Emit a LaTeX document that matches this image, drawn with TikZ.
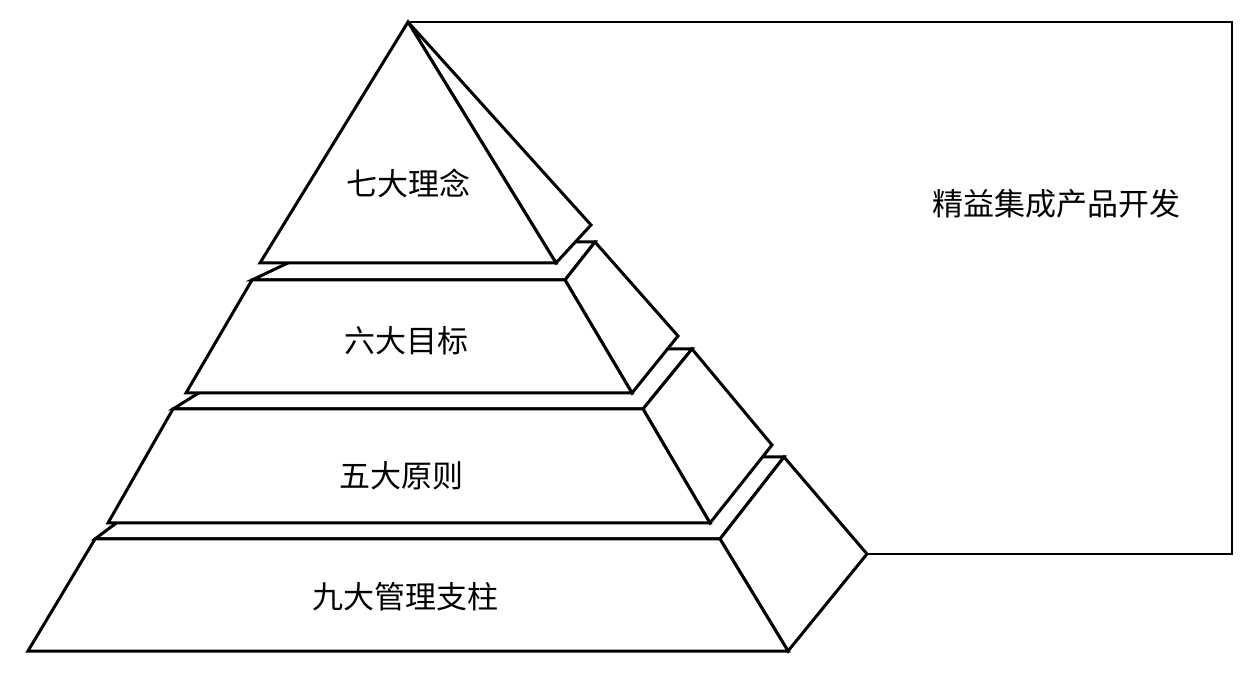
\documentclass[tikz,border=0pt]{standalone}
\usepackage{fontspec}
\newfontfamily\cjk{Noto Sans CJK SC}
\usepackage{tikz}

\tikzset{
  tierface/.style={fill=white, draw=black, line width=1.5pt},
  tiertext/.style={font=\cjk\fontsize{15.5}{18}\selectfont},
  frameline/.style={draw=black, line width=1pt}
}

\begin{document}
\begin{tikzpicture}[x=0.5pt, y=-0.5pt]
\useasboundingbox (0,0) rectangle (1259,673);

% Define points for bottom tier
\coordinate (a1) at (95, 539);
\coordinate (a2) at (720, 539);
\coordinate (a3) at (788, 651);
\coordinate (a4) at (28, 651);
\coordinate (a5) at (204, 457);
\coordinate (a6) at (784, 457);
\coordinate (a7) at (867, 554);

% Define points for third tier
\coordinate (b1) at (173, 409);
\coordinate (b2) at (643, 409);
\coordinate (b3) at (710, 523);
\coordinate (b4) at (108, 523);
\coordinate (b5) at (269, 349);
\coordinate (b6) at (692, 349);
\coordinate (b7) at (772, 445);

% Define points for second tier
\coordinate (c1) at (252, 280);
\coordinate (c2) at (565, 280);
\coordinate (c3) at (632, 393);
\coordinate (c4) at (186, 393);
\coordinate (c5) at (332, 242);
\coordinate (c6) at (595, 242);
\coordinate (c7) at (678, 336);

% Define points for top tier
\coordinate (apex) at (408, 22);
\coordinate (d1) at (556, 263);
\coordinate (d2) at (260, 263);
\coordinate (d3) at (591, 225);

% Corners of the outer frame
\coordinate (f1) at (1232, 22);
\coordinate (f2) at (1232, 554);

% Draw bottom tier
\filldraw[tierface] (a1) -- (a5) -- (a6) -- (a2) -- cycle;
\filldraw[tierface] (a2) -- (a6) -- (a7) -- (a3) -- cycle;
\filldraw[tierface] (a1) -- (a2) -- (a3) -- (a4) -- cycle;

% Draw third tier
\filldraw[tierface] (b1) -- (b5) -- (b6) -- (b2) -- cycle;
\filldraw[tierface] (b2) -- (b6) -- (b7) -- (b3) -- cycle;
\filldraw[tierface] (b1) -- (b2) -- (b3) -- (b4) -- cycle;

% Draw second tier
\filldraw[tierface] (c1) -- (c5) -- (c6) -- (c2) -- cycle;
\filldraw[tierface] (c2) -- (c6) -- (c7) -- (c3) -- cycle;
\filldraw[tierface] (c1) -- (c2) -- (c3) -- (c4) -- cycle;

% Draw top tier
\filldraw[tierface] (apex) -- (d3) -- (d1) -- cycle;
\filldraw[tierface] (apex) -- (d1) -- (d2) -- cycle;

% Draw outer frame
\draw[frameline] (apex) -- (f1) -- (f2) -- (a7);

% Label tiers
\node[tiertext] (concepts) at (408, 183) {七大理念};
\node[tiertext] (goals) at (406, 341) {六大目标};
\node[tiertext] (rules) at (401, 476) {五大原则};
\node[tiertext] (pillars) at (405, 597) {九大管理支柱};
\node[tiertext] (title) at (1056, 204) {精益集成产品开发};

\end{tikzpicture}
\end{document}
